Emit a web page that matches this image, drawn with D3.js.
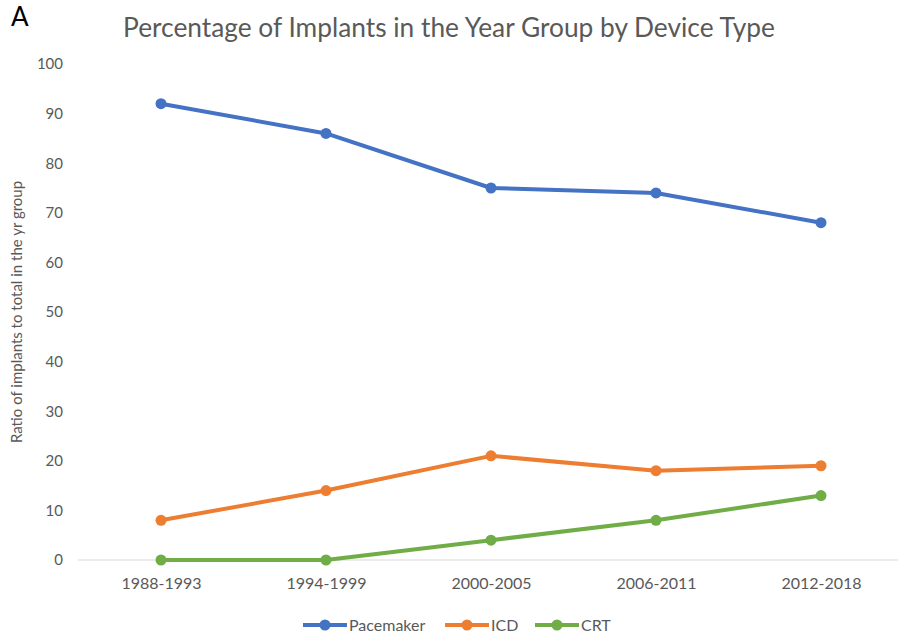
<!DOCTYPE html>
<html>
<head>
<meta charset="utf-8">
<script src="https://cdn.jsdelivr.net/npm/d3@7"></script>
<style>
  body { margin: 0; background: #fff; }
  svg { font-family: Lato, "Open Sans", sans-serif; }
</style>
</head>
<body>
<div id="chart"></div>
<script>
// data
const yearGroups = ["1988-1993", "1994-1999", "2000-2005", "2006-2011", "2012-2018"];
const pacemaker = [92, 86, 75, 74, 68];
const icd = [8, 14, 21, 18, 19];
const crt = [0, 0, 4, 8, 13];
const yTicks = [0, 10, 20, 30, 40, 50, 60, 70, 80, 90, 100];

const series = [
    { name: "Pacemaker", values: pacemaker, color: "#4472C4" },
    { name: "ICD", values: icd, color: "#ED7D31" },
    { name: "CRT", values: crt, color: "#70AD47" }
];

const W = 898, H = 637;
const MARGIN = { LEFT: 78, TOP: 64, BOTTOM: 77 };

const svg = d3.select("#chart").append("svg")
    .attr("width", W)
    .attr("height", H);

const x = d3.scalePoint()
    .domain(yearGroups)
    .range([161, 821]);
const y = d3.scaleLinear()
    .domain([0, 100])
    .range([H - MARGIN.BOTTOM, MARGIN.TOP]);

// "A" panel label
svg.append("text")
    .attr("x", 11)
    .attr("y", 26)
    .attr("font-size", "26px")
    .attr("fill", "#000")
    .text("A");

// title
svg.append("text")
    .attr("x", 449)
    .attr("y", 37)
    .attr("text-anchor", "middle")
    .attr("font-size", "26.3px")
    .attr("fill", "#595959")
    .text("Percentage of Implants in the Year Group by Device Type");

// y axis (labels only)
const yAxis = svg.append("g")
    .attr("transform", `translate(63, 0)`)
    .call(d3.axisLeft(y).tickValues(yTicks).tickSize(0).tickPadding(0));
yAxis.select(".domain").remove();
yAxis.selectAll("text")
    .attr("font-size", "15px")
    .attr("fill", "#595959")
    .attr("font-family", "Lato, sans-serif");

// baseline
svg.append("line")
    .attr("x1", MARGIN.LEFT)
    .attr("x2", W)
    .attr("y1", y(0))
    .attr("y2", y(0))
    .attr("stroke", "#d9d9d9")
    .attr("stroke-width", 1);

// x axis labels
const xAxis = svg.append("g")
    .attr("transform", `translate(0, ${y(0) + 18})`)
    .call(d3.axisBottom(x).tickSize(0).tickPadding(0));
xAxis.select(".domain").remove();
xAxis.selectAll("text")
    .attr("dy", "0.7em")
    .attr("font-size", "16px")
    .attr("fill", "#595959")
    .attr("font-family", "Lato, sans-serif");

// y axis title
svg.append("text")
    .attr("transform", `translate(22, ${y(50)}) rotate(-90)`)
    .attr("text-anchor", "middle")
    .attr("font-size", "15px")
    .attr("fill", "#595959")
    .text("Ratio of implants to total in the yr group");

// lines
const line = d3.line()
    .x((d, i) => x(yearGroups[i]))
    .y(d => y(d));

series.forEach(s => {
    svg.append("path")
        .attr("fill", "none")
        .attr("stroke", s.color)
        .attr("stroke-width", 4)
        .attr("stroke-linejoin", "round")
        .attr("stroke-linecap", "round")
        .attr("d", line(s.values));
    svg.selectAll(null)
        .data(s.values)
        .join("circle")
        .attr("cx", (d, i) => x(yearGroups[i]))
        .attr("cy", d => y(d))
        .attr("r", 5.5)
        .attr("fill", s.color);
});

// legend
const legendItems = [
    { x: 303, s: series[0] },
    { x: 445, s: series[1] },
    { x: 535, s: series[2] }
];
legendItems.forEach(item => {
    const g = svg.append("g")
        .attr("transform", `translate(${item.x}, 625)`);
    g.append("line")
        .attr("x1", 0).attr("x2", 44)
        .attr("stroke", item.s.color)
        .attr("stroke-width", 4);
    g.append("circle")
        .attr("cx", 22)
        .attr("r", 5.5)
        .attr("fill", item.s.color);
    g.append("text")
        .attr("x", 46)
        .attr("dy", "0.35em")
        .attr("font-size", "16px")
        .attr("fill", "#595959")
        .text(item.s.name);
});
</script>
</body>
</html>
